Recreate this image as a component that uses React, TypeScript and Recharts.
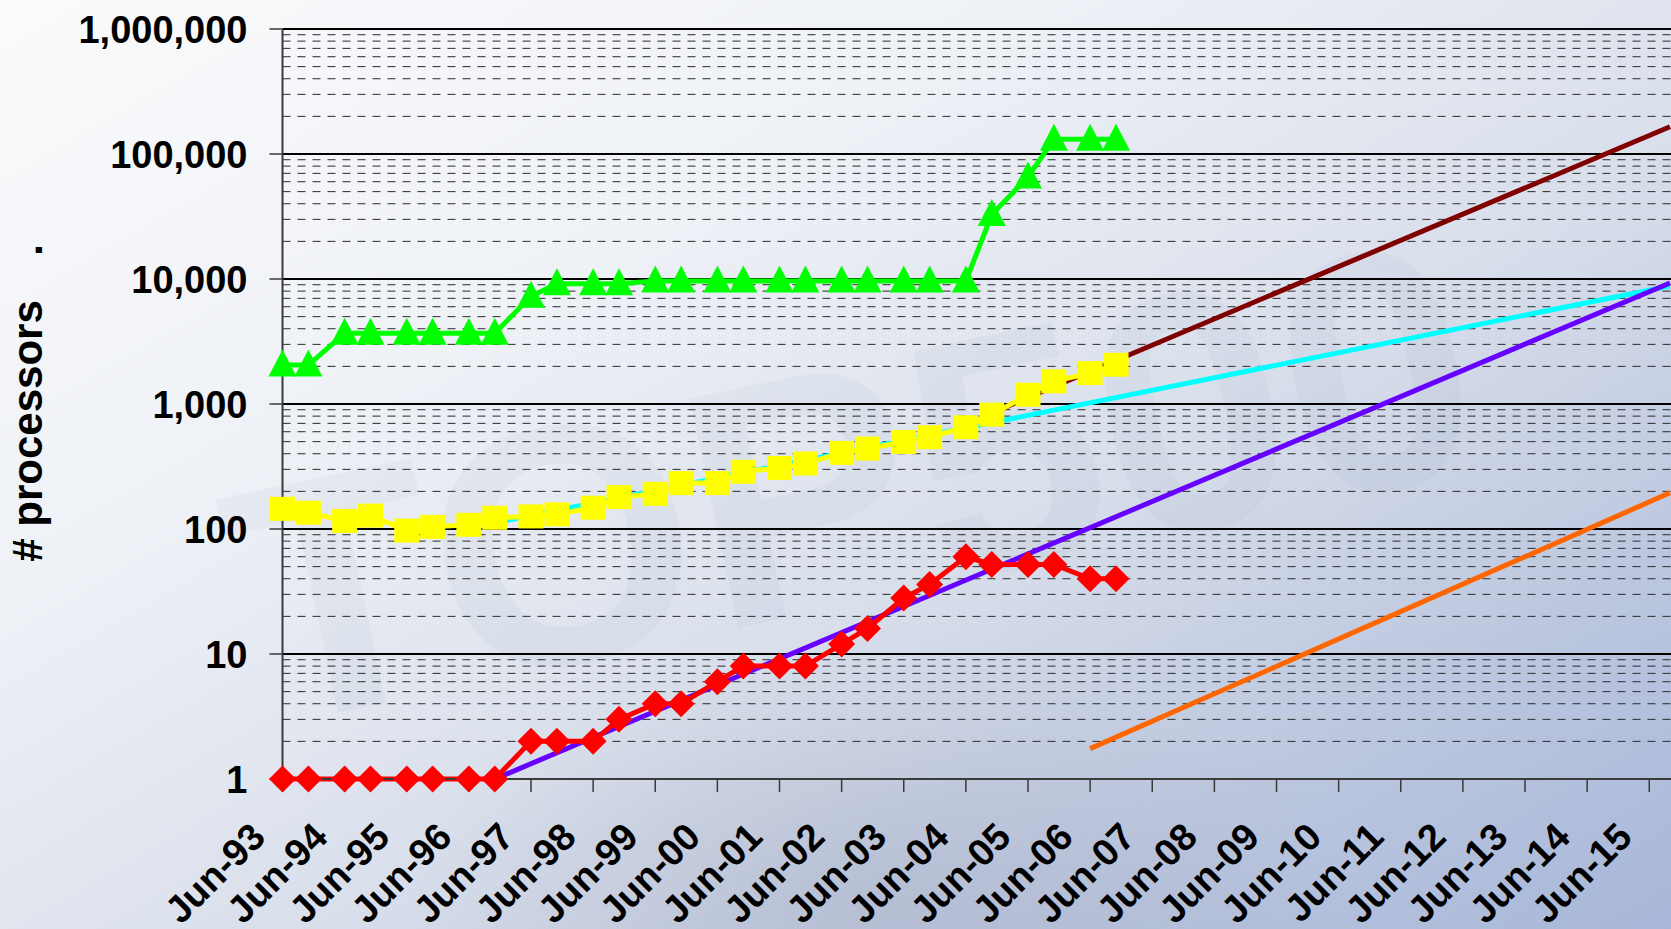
import { ComposedChart, Line, XAxis, YAxis, CartesianGrid, ReferenceLine } from 'recharts'

// TOP500 list dates (June and November lists)
const listDates = [
  'Jun-93', 'Nov-93', 'Jun-94', 'Nov-94', 'Jun-95', 'Nov-95', 'Jun-96', 'Nov-96',
  'Jun-97', 'Nov-97', 'Jun-98', 'Nov-98', 'Jun-99', 'Nov-99', 'Jun-00', 'Nov-00',
  'Jun-01', 'Nov-01', 'Jun-02', 'Nov-02', 'Jun-03', 'Nov-03', 'Jun-04', 'Nov-04',
  'Jun-05', 'Nov-05', 'Jun-06', 'Nov-06',
]

const maxProcessors = [
  2048, 2048, 3680, 3680, 3680, 3680, 3680, 3680,
  7264, 9152, 9152, 9152, 9632, 9632, 9632, 9632,
  9632, 9632, 9632, 9632, 9632, 9632, 9632, 32768,
  65536, 131072, 131072, 131072,
]

const avgProcessors = [
  145, 135, 116, 128, 97, 104, 108, 123,
  126, 131, 148, 180, 191, 233, 233, 287,
  308, 334, 406, 440, 497, 542, 652, 822,
  1186, 1517, 1767, 2060,
]

const minProcessors = [
  1, 1, 1, 1, 1, 1, 1, 1,
  2, 2, 2, 3, 4, 4, 6, 8,
  8, 8, 12, 16, 28, 36, 60, 52,
  52, 52, 40, 40,
]

// trend lines (start / end)
const trendMaxDates = ['Nov-04', 'Oct-15']
const trendMaxValues = [850, 165000]
const trendAvgDates = ['Nov-96', 'Oct-15']
const trendAvgValues = [112, 8800]
const trendMinDates = ['Nov-96', 'Oct-15']
const trendMinValues = [1, 9300]
const trendEntryDates = ['Jun-06', 'Oct-15']
const trendEntryValues = [1.75, 195]

const tickLabels = [
  'Jun-93', 'Jun-94', 'Jun-95', 'Jun-96', 'Jun-97', 'Jun-98', 'Jun-99', 'Jun-00',
  'Jun-01', 'Jun-02', 'Jun-03', 'Jun-04', 'Jun-05', 'Jun-06', 'Jun-07', 'Jun-08',
  'Jun-09', 'Jun-10', 'Jun-11', 'Jun-12', 'Jun-13', 'Jun-14', 'Jun-15',
]

const decades = [1, 10, 100, 1000, 10000, 100000, 1000000]
const minorSteps = [2, 3, 4, 5, 6, 7, 8, 9]

const MONTHS: Record<string, number> = {
  Jan: 0, Feb: 1, Mar: 2, Apr: 3, May: 4, Jun: 5, Jul: 6, Aug: 7, Sep: 8, Oct: 9, Nov: 10, Dec: 11,
}

// months since Jun-93
const toMonths = (label: string) => {
  const [mon, yy] = label.split('-')
  const y = Number(yy)
  const year = y < 50 ? 2000 + y : 1900 + y
  return (year - 1993) * 12 + MONTHS[mon] - 5
}

const series = (dates: string[], values: number[]) =>
  dates.map((d, i) => ({ m: toMonths(d), v: values[i] }))

const maxData = series(listDates, maxProcessors)
const avgData = series(listDates, avgProcessors)
const minData = series(listDates, minProcessors)
const trendMax = series(trendMaxDates, trendMaxValues)
const trendAvg = series(trendAvgDates, trendAvgValues)
const trendMin = series(trendMinDates, trendMinValues)
const trendEntry = series(trendEntryDates, trendEntryValues)

const xTicks = tickLabels.map(toMonths)
const minorLines = decades.slice(0, -1).flatMap(d => minorSteps.map(s => d * s))

const FONT = "'Liberation Sans', Arial, Helvetica, sans-serif"

const YTick = ({ x, y, payload }: any) => (
  <text x={x} y={y} dy="0.36em" textAnchor="end" fontSize={38} fontWeight="bold" fontFamily={FONT} fill="#000">
    {Number(payload.value).toLocaleString('en-US')}
  </text>
)

const XTick = ({ x, y, payload }: any) => {
  const idx = xTicks.indexOf(payload.value)
  const tx = x - 15
  const ty = y + 47
  return (
    <text x={tx} y={ty} transform={`rotate(-45 ${tx} ${ty})`} textAnchor="end" fontSize={38} fontWeight="bold" fontFamily={FONT} fill="#000">
      {tickLabels[idx]}
    </text>
  )
}

const diamond = (fill: string) => (p: any) => {
  const { cx, cy, index } = p
  const r = 13.5
  return <path key={`d${index}`} d={`M${cx},${cy - r}L${cx + r},${cy}L${cx},${cy + r}L${cx - r},${cy}Z`} fill={fill} />
}

const square = (fill: string) => (p: any) => {
  const { cx, cy, index } = p
  return <rect key={`s${index}`} x={cx - 12.5} y={cy - 12} width={25} height={24} fill={fill} />
}

const triangle = (fill: string) => (p: any) => {
  const { cx, cy, index } = p
  const h = 27
  const w = 28
  return <path key={`t${index}`} d={`M${cx},${cy - h / 2 - 2}L${cx + w / 2},${cy + h / 2 - 2}L${cx - w / 2},${cy + h / 2 - 2}Z`} fill={fill} />
}

export default function App() {
  return (
    <div
      style={{
        position: 'absolute', left: 0, top: 0, width: 1671, height: 929, overflow: 'hidden',
        background: 'linear-gradient(150deg, #fbfbfc 0%, #eef1f6 32%, #d9dfeb 58%, #bcc7df 80%, #a8b7d9 100%)',
      }}
    >
      <svg width={1671} height={929} style={{ position: 'absolute', left: 0, top: 0 }}>
        <defs>
          <radialGradient id="smudge" cx="0.5" cy="0.5" r="0.5">
            <stop offset="0%" stopColor="#9ca2b8" stopOpacity={0.35} />
            <stop offset="100%" stopColor="#9ca2b8" stopOpacity={0} />
          </radialGradient>
        </defs>
        <ellipse cx={880} cy={900} rx={480} ry={260} fill="url(#smudge)" />
        <text
          x={860} y={600} textAnchor="middle" fontSize={340} fontWeight="bold" fontFamily={FONT}
          fill="rgba(120,135,175,0.06)" transform="rotate(-12 860 520)"
        >
          TOP500
        </text>
      </svg>
      <div style={{ position: 'absolute', left: 0, top: 0 }}>
        <ComposedChart width={1671} height={929} margin={{ top: 29, right: 0, bottom: 0, left: 0 }}>
          <CartesianGrid vertical={false} stroke="#000" strokeWidth={2} />
          {minorLines.map(v => (
            <ReferenceLine key={v} y={v} stroke="#2a2a2a" strokeWidth={1} strokeDasharray="8 7" />
          ))}
          <XAxis
            type="number" dataKey="m" domain={[0, 268.2]} ticks={xTicks}
            height={150} tickSize={13} tickMargin={0} interval={0}
            axisLine={{ stroke: '#3a3a3a', strokeWidth: 2 }} tickLine={{ stroke: '#3a3a3a', strokeWidth: 1.5 }}
            tick={<XTick />}
          />
          <YAxis
            type="number" scale="log" domain={[1, 1000000]} ticks={decades}
            width={282.5} tickSize={13} tickMargin={22} interval={0}
            axisLine={{ stroke: '#3a3a3a', strokeWidth: 2 }} tickLine={{ stroke: '#3a3a3a', strokeWidth: 1.5 }}
            tick={<YTick />}
          />
          <Line data={trendMax} dataKey="v" stroke="#800000" strokeWidth={5} dot={false} activeDot={false} isAnimationActive={false} />
          <Line data={trendAvg} dataKey="v" stroke="#00ffff" strokeWidth={5} dot={false} activeDot={false} isAnimationActive={false} />
          <Line data={trendMin} dataKey="v" stroke="#6600ff" strokeWidth={5} dot={false} activeDot={false} isAnimationActive={false} />
          <Line data={trendEntry} dataKey="v" stroke="#ff6600" strokeWidth={5} dot={false} activeDot={false} isAnimationActive={false} />
          <Line data={minData} dataKey="v" stroke="#ff0000" strokeWidth={5} dot={diamond('#ff0000')} activeDot={false} isAnimationActive={false} />
          <Line data={avgData} dataKey="v" stroke="#ffff00" strokeWidth={5} dot={square('#ffff00')} activeDot={false} isAnimationActive={false} />
          <Line data={maxData} dataKey="v" stroke="#00ff00" strokeWidth={5} dot={triangle('#00ff00')} activeDot={false} isAnimationActive={false} />
        </ComposedChart>
      </div>
      <svg width={120} height={929} style={{ position: 'absolute', left: 0, top: 0 }}>
        <text x={42} y={431} transform="rotate(-90 42 431)" textAnchor="middle" fontSize={42} fontWeight="bold" fontFamily={FONT} fill="#000">
          # processors
        </text>
        <text x={42} y={250} transform="rotate(-90 42 250)" textAnchor="middle" fontSize={42} fontWeight="bold" fontFamily={FONT} fill="#000">
          .
        </text>
      </svg>
    </div>
  )
}
